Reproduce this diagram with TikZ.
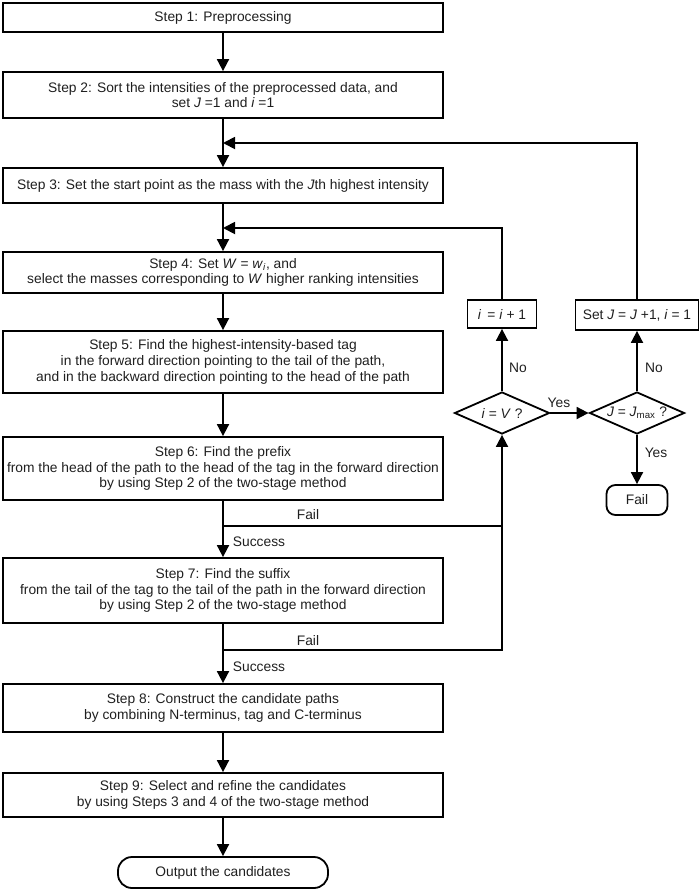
\documentclass[tikz,border=0pt]{standalone}
\usepackage{fontspec}
\setmainfont{Liberation Sans}
\usetikzlibrary{shapes.geometric,arrows.meta}
\begin{document}
\begin{tikzpicture}[x=1pt,y=-1pt,
  every node/.style={font=\fontsize{13.8}{15.6}\selectfont, text=black!88},
  mainbox/.style={draw, line width=1.8pt, minimum width=440pt, inner sep=0pt, align=center},
  sidebox/.style={draw, line width=1.8pt, inner sep=0pt, align=center},
  dia/.style={draw, diamond, line width=1.8pt, inner sep=0pt, minimum width=95pt, minimum height=42pt, aspect=2.26},
  term/.style={draw, line width=1.8pt, inner sep=0pt, align=center},
  lbl/.style={inner sep=1pt},
  arr/.style={line width=1.8pt, -{Triangle[length=12pt,width=12pt]}},
  ln/.style={line width=1.8pt}]
\useasboundingbox (0,0) rectangle (700,889);
\node[mainbox, minimum height=29pt] (s1) at (223,17.5) {Step 1: Preprocessing};
\node[mainbox, minimum height=46pt] (s2) at (223,95) {Step 2: Sort the intensities of the preprocessed data, and\\set \textit{J} =1 and \textit{i} =1};
\node[mainbox, minimum height=35pt] (s3) at (223,185.5) {Step 3: Set the start point as the mass with the \textit{J}th highest intensity};
\node[mainbox, minimum height=41pt] (s4) at (223,272.5) {Step 4: Set \textit{W} = \textit{w}\textsubscript{\textit{i}}, and\\select the masses corresponding to \textit{W} higher ranking intensities};
\node[mainbox, minimum height=62pt] (s5) at (223,362) {Step 5: Find the highest-intensity-based tag\\in the forward direction pointing to the tail of the path,\\and in the backward direction pointing to the head of the path};
\node[mainbox, minimum height=63pt] (s6) at (223,468.5) {Step 6: Find the prefix\\from the head of the path to the head of the tag in the forward direction\\by using Step 2 of the two-stage method};
\node[mainbox, minimum height=65pt] (s7) at (223,590.5) {Step 7: Find the suffix\\from the tail of the tag to the tail of the path in the forward direction\\by using Step 2 of the two-stage method};
\node[mainbox, minimum height=48pt] (s8) at (223,708) {Step 8: Construct the candidate paths\\by combining N-terminus, tag and C-terminus};
\node[mainbox, minimum height=44pt] (s9) at (223,795) {Step 9: Select and refine the candidates\\by using Steps 3 and 4 of the two-stage method};
\node[term, rounded corners=14pt, minimum width=210pt, minimum height=31pt] (out) at (223,872.5) {Output the candidates};

\node[sidebox, minimum width=69pt, minimum height=28pt] (inc) at (502,314) {\textit{i}\, = \textit{i} + 1};
\node[sidebox, minimum width=123pt, minimum height=30pt] (setj) at (637,315) {Set \textit{J} = \textit{J} +1, \textit{i} = 1};
\node[dia] (iv) at (502,413) {\textit{i} = \textit{V} ?};
\node[dia] (jm) at (637,413) {\textit{J} = \textit{J}\textsubscript{max} ?};
\node[term, rounded corners=9pt, minimum width=61pt, minimum height=30pt] (fail) at (637,500) {Fail};

\coordinate (l1) at (223,143);
\coordinate (l2) at (223,228);
\coordinate (f1) at (223,526);
\coordinate (f2) at (223,650);

\draw[arr] (s1) -- (s2);
\draw[arr] (s2) -- (s3);
\draw[arr] (s3) -- (s4);
\draw[arr] (s4) -- (s5);
\draw[arr] (s5) -- (s6);
\draw[arr] (s6) -- (s7);
\draw[arr] (s7) -- (s8);
\draw[arr] (s8) -- (s9);
\draw[arr] (s9) -- (out);

\draw[ln] (f1) -- (f1 -| iv);
\draw[arr] (f2) -- (f2 -| iv) -- (iv.south);
\draw[arr] (iv.north) -- (inc.south);
\draw[arr] (inc.north) |- (l2);
\draw[arr] (iv.east) -- (jm.west);
\draw[arr] (jm.north) -- (setj.south);
\draw[arr] (setj.north) |- (l1);
\draw[arr] (jm.south) -- (fail.north);

\node[lbl] (lf1) at (308,515) {Fail};
\node[lbl] (ls1) at (259,542) {Success};
\node[lbl] (lf2) at (308,641) {Fail};
\node[lbl] (ls2) at (259,667) {Success};
\node[lbl] (ln1) at (518,368) {No};
\node[lbl] (ln2) at (654,368) {No};
\node[lbl] (ly1) at (559,403) {Yes};
\node[lbl] (ly2) at (656,453) {Yes};
\end{tikzpicture}
\end{document}
